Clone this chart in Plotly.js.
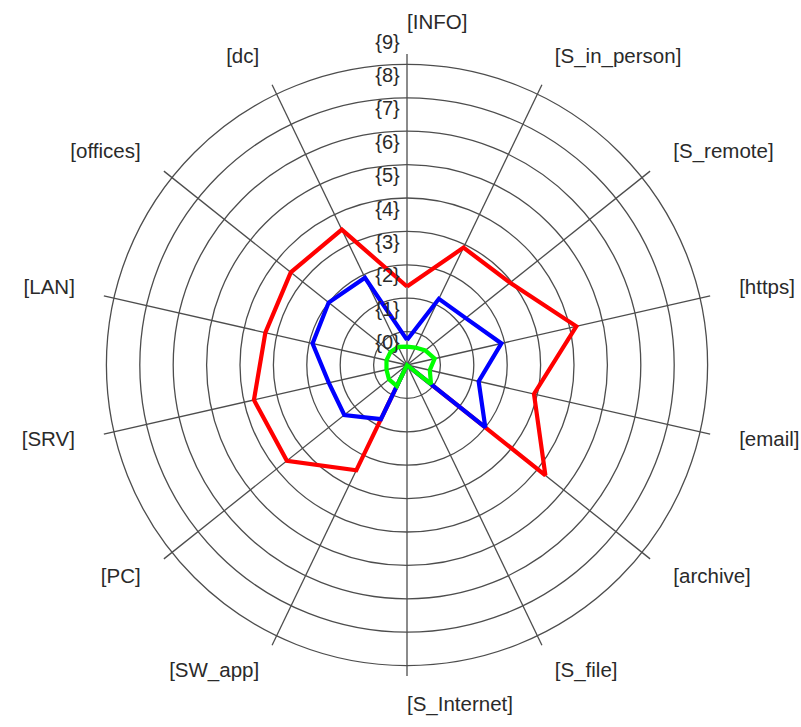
<!DOCTYPE html>
<html>
<head>
<meta charset="utf-8">
<script src="https://cdn.plot.ly/plotly-3.0.1.min.js"></script>
<style>html,body{margin:0;padding:0;background:#fff}#chart{width:801px;height:727px}</style>
</head>
<body>
<div id="chart"></div>
<script>
var categories = ['[INFO]','[S_in_person]','[S_remote]','[https]','[email]','[archive]','[S_file]','[S_Internet]','[SW_app]','[PC]','[SRV]','[LAN]','[offices]','[dc]'];
var redValues   = [2.35, 3.9, 3.95, 5.2, 3.9, 5.3, 0, 0, 3.5, 4.6, 4.7, 4.35, 4.45, 4.5];
var blueValues  = [0.75, 2.2, 2.25, 2.9, 2.2, 3.0, 0, 0, 1.8, 2.4, 2.4, 2.9, 3.0, 2.9];
var greenValues = [0.55, 0.58, 0.7, 0.85, 0.7, 0.92, 0, 0, 0.7, 0.69, 0.63, 0.63, 0.63, 0.6];
var ringValues = [1, 2, 3, 4, 5, 6, 7, 8, 9];
var scaleLabels = ['{0}','{1}','{2}','{3}','{4}','{5}','{6}','{7}','{8}','{9}'];

var W = 801, H = 727;
var cx = 407, cy = 365, unit = 33.4;
var rMax1 = 9.31, rMax2 = 10.6;
var labelShift = 0.62;
var catLabelR = 10.2;
var FONT = 'Liberation Sans, Arial, sans-serif';

function dom(rmax) {
  var R = rmax * unit;
  return {x: [(cx - R) / W, (cx + R) / W], y: [(H - cy - R) / H, (H - cy + R) / H]};
}
function closed(a) { return a.concat([a[0]]); }

function series(vals, color) {
  return {
    type: 'scatterpolar', subplot: 'polar', mode: 'lines',
    r: closed(vals), theta: closed(categories),
    line: {color: color, width: 4.2},
    hoverinfo: 'skip', showlegend: false
  };
}

var n = categories.length;
var catPositions = categories.map(function (c, i) {
  return (i * 360 / n) <= 180 ? 'middle right' : 'middle left';
});

var traces = [
  series(redValues, '#ff0000'),
  series(blueValues, '#0000ff'),
  series(greenValues, '#00ff00'),
  {
    type: 'scatterpolar', subplot: 'polar2', mode: 'markers+text',
    r: scaleLabels.map(function (t, i) { return i + labelShift; }),
    theta: scaleLabels.map(function () { return categories[0]; }),
    text: scaleLabels, textposition: 'middle left',
    marker: {size: 10, opacity: 0},
    textfont: {family: FONT, size: 20, color: '#2a2a2a'},
    hoverinfo: 'skip', showlegend: false, cliponaxis: false
  },
  {
    type: 'scatterpolar', subplot: 'polar2', mode: 'text',
    r: categories.map(function () { return catLabelR; }),
    theta: categories,
    text: categories, textposition: catPositions,
    textfont: {family: FONT, size: 20.5, color: '#2a2a2a'},
    hoverinfo: 'skip', showlegend: false, cliponaxis: false
  }
];

var gridCol = '#4d4d4d';
var layout = {
  width: W, height: H,
  margin: {l: 0, r: 0, t: 0, b: 0},
  paper_bgcolor: '#ffffff',
  showlegend: false,
  polar: {
    domain: dom(rMax1),
    bgcolor: '#ffffff',
    radialaxis: {
      range: [0, rMax1], tickmode: 'array', tickvals: ringValues,
      showticklabels: false, ticks: '', showline: false,
      gridcolor: gridCol, gridwidth: 1.3, angle: 90
    },
    angularaxis: {
      type: 'category', categoryarray: categories,
      direction: 'clockwise', rotation: 90,
      showline: false, showticklabels: false, ticks: '',
      gridcolor: gridCol, gridwidth: 1.3
    }
  },
  polar2: {
    domain: dom(rMax2),
    bgcolor: 'rgba(0,0,0,0)',
    radialaxis: {range: [0, rMax2], visible: false},
    angularaxis: {
      type: 'category', categoryarray: categories,
      direction: 'clockwise', rotation: 90, visible: false
    }
  }
};

Plotly.newPlot('chart', traces, layout, {displayModeBar: false, staticPlot: true});
</script>
</body>
</html>
